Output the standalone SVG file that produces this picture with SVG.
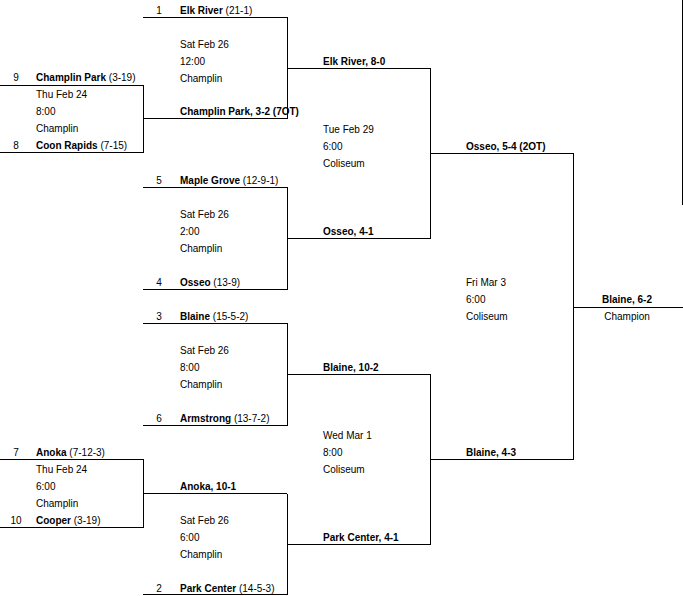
<svg xmlns="http://www.w3.org/2000/svg" width="683" height="596" viewBox="0 0 683 596">
<style>
text{font-family:"Liberation Sans",Arial,sans-serif;font-size:10px;fill:#000}
.b{font-weight:bold}
.n{font-weight:normal}
.s{text-anchor:middle}
.c{text-anchor:middle}
#connectors path{fill:none;stroke:#000;stroke-width:1;shape-rendering:crispEdges}
</style>
<rect width="683" height="596" fill="#fff"/>
<g id="connectors">
<path d="M0 85.5H143.5V152.5H0M143.5 118.5H287"/>
<path d="M0 459.5H143.5V527.5H0M143.5 493.5H287"/>
<path d="M143 17.5H287.5V118.5M287.5 68.5H430"/>
<path d="M143 187.5H287.5V289.5H143M287.5 238.5H430"/>
<path d="M143 323.5H287.5V425.5H143M287.5 374.5H430"/>
<path d="M287.5 493.5V594.5H143M287.5 544.5H430"/>
<path d="M287 68.5H430.5V238.5H287M430.5 153.5H573"/>
<path d="M287 374.5H430.5V544.5H287M430.5 459.5H573"/>
<path d="M430 153.5H573.5V459.5H430M573.5 307.5H683"/>
<path d="M682.5 0V205"/>
</g>
<g id="game-champlinpark-coonrapids">
<text class="s" x="16" y="81">9</text><text class="b" x="36" y="81">Champlin Park <tspan class="n">(3-19)</tspan></text>
<text x="36" y="98">Thu Feb 24</text><text x="36" y="115">8:00</text><text x="36" y="132">Champlin</text>
<text class="s" x="16" y="149">8</text><text class="b" x="36" y="149">Coon Rapids <tspan class="n">(7-15)</tspan></text>
</g>
<g id="game-anoka-cooper">
<text class="s" x="16" y="456">7</text><text class="b" x="36" y="456">Anoka <tspan class="n">(7-12-3)</tspan></text>
<text x="36" y="473">Thu Feb 24</text><text x="36" y="490">6:00</text><text x="36" y="507">Champlin</text>
<text class="s" x="16" y="524">10</text><text class="b" x="36" y="524">Cooper <tspan class="n">(3-19)</tspan></text>
</g>
<g id="game-elkriver">
<text class="s" x="159" y="14">1</text><text class="b" x="180" y="14">Elk River <tspan class="n">(21-1)</tspan></text>
<text x="180" y="48">Sat Feb 26</text><text x="180" y="65">12:00</text><text x="180" y="82">Champlin</text>
<text class="b" x="180" y="115">Champlin Park, 3-2 (7OT)</text>
</g>
<g id="game-maplegrove-osseo">
<text class="s" x="159" y="184">5</text><text class="b" x="180" y="184">Maple Grove <tspan class="n">(12-9-1)</tspan></text>
<text x="180" y="218">Sat Feb 26</text><text x="180" y="235">2:00</text><text x="180" y="252">Champlin</text>
<text class="s" x="159" y="286">4</text><text class="b" x="180" y="286">Osseo <tspan class="n">(13-9)</tspan></text>
</g>
<g id="game-blaine-armstrong">
<text class="s" x="159" y="320">3</text><text class="b" x="180" y="320">Blaine <tspan class="n">(15-5-2)</tspan></text>
<text x="180" y="354">Sat Feb 26</text><text x="180" y="371">8:00</text><text x="180" y="388">Champlin</text>
<text class="s" x="159" y="422">6</text><text class="b" x="180" y="422">Armstrong <tspan class="n">(13-7-2)</tspan></text>
</g>
<g id="game-parkcenter">
<text class="b" x="180" y="490">Anoka, 10-1</text>
<text x="180" y="524">Sat Feb 26</text><text x="180" y="541">6:00</text><text x="180" y="558">Champlin</text>
<text class="s" x="159" y="592">2</text><text class="b" x="180" y="592">Park Center <tspan class="n">(14-5-3)</tspan></text>
</g>
<g id="semi-top">
<text class="b" x="323" y="65">Elk River, 8-0</text>
<text x="323" y="133">Tue Feb 29</text><text x="323" y="150">6:00</text><text x="323" y="167">Coliseum</text>
<text class="b" x="323" y="235">Osseo, 4-1</text>
</g>
<g id="semi-bottom">
<text class="b" x="323" y="371">Blaine, 10-2</text>
<text x="323" y="439">Wed Mar 1</text><text x="323" y="456">8:00</text><text x="323" y="473">Coliseum</text>
<text class="b" x="323" y="541">Park Center, 4-1</text>
</g>
<g id="final">
<text class="b" x="466" y="150">Osseo, 5-4 (2OT)</text>
<text x="466" y="286">Fri Mar 3</text><text x="466" y="303">6:00</text><text x="466" y="320">Coliseum</text>
<text class="b" x="466" y="456">Blaine, 4-3</text>
</g>
<g id="champion">
<text class="b c" x="627" y="303">Blaine, 6-2</text>
<text class="c" x="627" y="320">Champion</text>
</g>
</svg>
